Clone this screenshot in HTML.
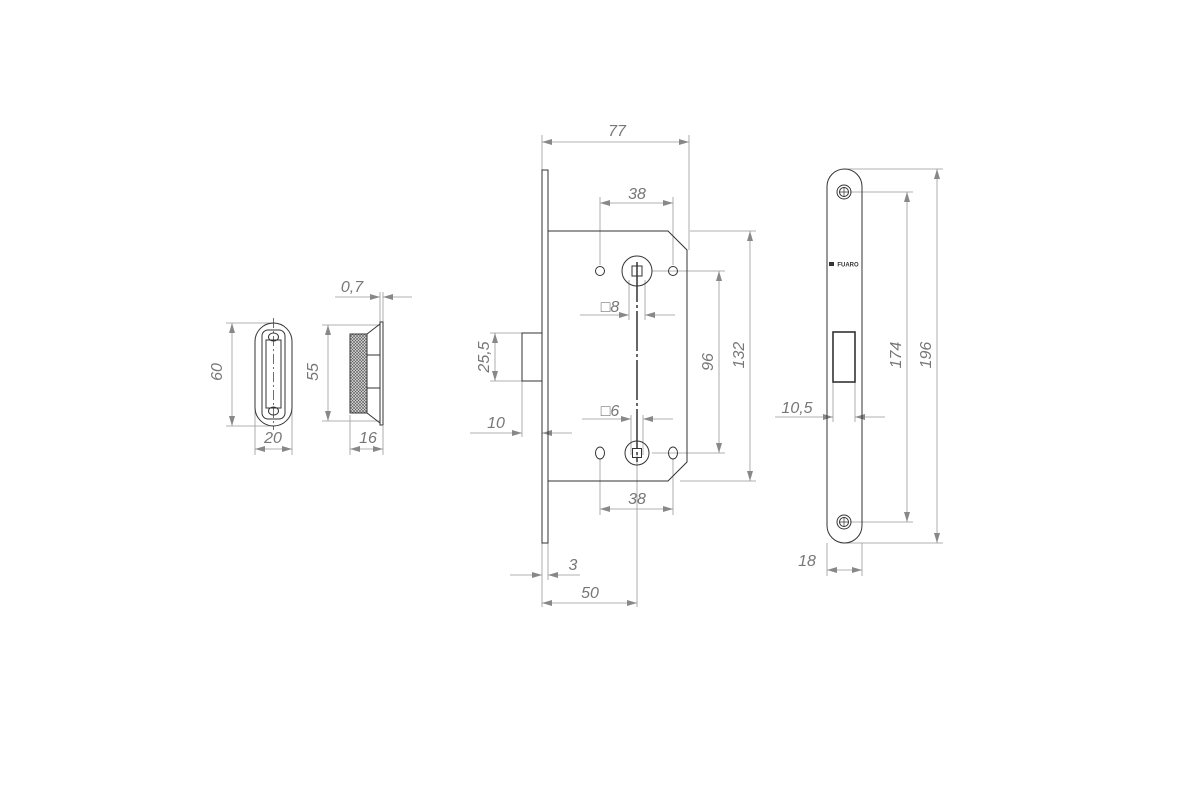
<!DOCTYPE html>
<html><head><style>html,body{margin:0;background:#fff}svg{display:block}
text{font-family:"Liberation Sans",sans-serif;font-style:italic;fill:#777;font-size:16px;text-anchor:middle}</style></head>
<body>
<svg width="1200" height="800" viewBox="0 0 1200 800" xmlns="http://www.w3.org/2000/svg">
<defs>
<marker id="a" viewBox="0 0 10 6" refX="10" refY="3" markerWidth="10" markerHeight="6" orient="auto-start-reverse" markerUnits="userSpaceOnUse"><path d="M0,0L10,3L0,6z" fill="#888"/></marker>
<pattern id="m" width="3" height="3" patternUnits="userSpaceOnUse"><rect width="3" height="3" fill="#ddd"/><path d="M0,0L3,3M3,0L0,3" stroke="#555" stroke-width="0.6"/></pattern>
</defs>
<g fill="none" stroke="#999" stroke-width="0.8">
<line x1="274" y1="323" x2="226" y2="323"/><line x1="274" y1="426" x2="226" y2="426"/>
<line x1="232" y1="323" x2="232" y2="426" marker-start="url(#a)" marker-end="url(#a)"/>
<line x1="255" y1="380" x2="255" y2="455"/><line x1="292" y1="380" x2="292" y2="455"/>
<line x1="255" y1="449" x2="292" y2="449" marker-start="url(#a)" marker-end="url(#a)"/>
<line x1="380" y1="325" x2="322" y2="325"/><line x1="380" y1="421" x2="322" y2="421"/>
<line x1="328" y1="325" x2="328" y2="421" marker-start="url(#a)" marker-end="url(#a)"/>
<line x1="350" y1="415" x2="350" y2="455"/><line x1="383" y1="426" x2="383" y2="455"/>
<line x1="350" y1="449" x2="383" y2="449" marker-start="url(#a)" marker-end="url(#a)"/>
<line x1="380" y1="292" x2="380" y2="322"/><line x1="383" y1="292" x2="383" y2="322"/>
<line x1="335" y1="297" x2="380" y2="297" marker-end="url(#a)"/><line x1="412" y1="297" x2="383" y2="297" marker-end="url(#a)"/>
<line x1="542" y1="135" x2="542" y2="170"/><line x1="689" y1="135" x2="689" y2="250"/>
<line x1="542" y1="142" x2="689" y2="142" marker-start="url(#a)" marker-end="url(#a)"/>
<line x1="600" y1="197" x2="600" y2="265"/><line x1="673" y1="197" x2="673" y2="265"/>
<line x1="600" y1="203" x2="673" y2="203" marker-start="url(#a)" marker-end="url(#a)"/>
<line x1="600" y1="459" x2="600" y2="515"/><line x1="673" y1="459" x2="673" y2="515"/>
<line x1="600" y1="509" x2="673" y2="509" marker-start="url(#a)" marker-end="url(#a)"/>
<line x1="580" y1="315" x2="629" y2="315" marker-end="url(#a)"/><line x1="675" y1="315" x2="645" y2="315" marker-end="url(#a)"/>
<line x1="629" y1="280" x2="629" y2="320"/><line x1="645" y1="280" x2="645" y2="320"/>
<line x1="582" y1="419" x2="631" y2="419" marker-end="url(#a)"/><line x1="673" y1="419" x2="643" y2="419" marker-end="url(#a)"/>
<line x1="631" y1="415" x2="631" y2="455"/><line x1="643" y1="415" x2="643" y2="455"/>
<line x1="652" y1="271" x2="725" y2="271"/><line x1="652" y1="453" x2="725" y2="453"/>
<line x1="719" y1="271" x2="719" y2="453" marker-start="url(#a)" marker-end="url(#a)"/>
<line x1="690" y1="231" x2="756" y2="231"/><line x1="680" y1="481" x2="756" y2="481"/>
<line x1="750" y1="231" x2="750" y2="481" marker-start="url(#a)" marker-end="url(#a)"/>
<line x1="522" y1="333" x2="490" y2="333"/><line x1="522" y1="381" x2="490" y2="381"/>
<line x1="495" y1="333" x2="495" y2="381" marker-start="url(#a)" marker-end="url(#a)"/>
<line x1="522" y1="381" x2="522" y2="437"/>
<line x1="470" y1="433" x2="522" y2="433" marker-end="url(#a)"/><line x1="572" y1="433" x2="542" y2="433" marker-end="url(#a)"/>
<line x1="542" y1="543" x2="542" y2="607"/><line x1="548" y1="543" x2="548" y2="580"/>
<line x1="510" y1="575" x2="542" y2="575" marker-end="url(#a)"/><line x1="580" y1="575" x2="548" y2="575" marker-end="url(#a)"/>
<line x1="637" y1="453" x2="637" y2="607"/>
<line x1="542" y1="603" x2="637" y2="603" marker-start="url(#a)" marker-end="url(#a)"/>
<line x1="843" y1="169" x2="943" y2="169"/><line x1="843" y1="543" x2="943" y2="543"/>
<line x1="850" y1="192" x2="913" y2="192"/><line x1="850" y1="522" x2="913" y2="522"/>
<line x1="907" y1="192" x2="907" y2="522" marker-start="url(#a)" marker-end="url(#a)"/>
<line x1="937" y1="169" x2="937" y2="543" marker-start="url(#a)" marker-end="url(#a)"/>
<line x1="833" y1="382" x2="833" y2="422"/><line x1="855" y1="382" x2="855" y2="422"/>
<line x1="775" y1="417" x2="833" y2="417" marker-end="url(#a)"/><line x1="885" y1="417" x2="855" y2="417" marker-end="url(#a)"/>
<line x1="827" y1="543" x2="827" y2="576"/><line x1="862" y1="543" x2="862" y2="576"/>
<line x1="827" y1="570" x2="862" y2="570" marker-start="url(#a)" marker-end="url(#a)"/>
</g>
<g fill="none" stroke="#333" stroke-width="1">
<rect x="255" y="323" width="37" height="103" rx="18.5"/>
<rect x="262" y="330" width="23" height="89" rx="6"/>
<rect x="266" y="340" width="15" height="68"/>
<ellipse cx="273.5" cy="337" rx="5" ry="4"/><ellipse cx="273.5" cy="411" rx="5" ry="4"/>
<line x1="273.5" y1="318" x2="273.5" y2="430" stroke-dasharray="10,3,2,3" stroke-width="0.7"/>
<rect x="380" y="322" width="3" height="103"/>
<path d="M350 334H367L380 324M350 413H367L380 423M367 334V413M367 355H380M367 388H380"/>
<rect x="350" y="334" width="17" height="79" fill="url(#m)" stroke="#333"/>
<rect x="542" y="170" width="6" height="373"/>
<path d="M548 231H668L687 250V462L668 481H548"/>
<rect x="522" y="333" width="20" height="48"/>
<circle cx="637" cy="271" r="15"/><rect x="632" y="266" width="10" height="10"/>
<circle cx="637" cy="453" r="12"/><rect x="632.5" y="448.5" width="9" height="9"/>
<circle cx="600" cy="271" r="4.5"/><circle cx="673" cy="271" r="4.5"/>
<ellipse cx="600" cy="453" rx="4.5" ry="6"/><ellipse cx="673" cy="453" rx="4.5" ry="6"/>
<line x1="637" y1="262" x2="637" y2="462" stroke-dasharray="40,3,3,3" stroke-width="1.5"/>
<rect x="827" y="169" width="35" height="374" rx="17.5"/>
<circle cx="844" cy="192" r="7"/><circle cx="844" cy="192" r="4.5"/>
<circle cx="844" cy="522" r="7"/><circle cx="844" cy="522" r="4.5"/>
<path d="M844 187V197M839 192H849M844 517V527M839 522H849" stroke-width="0.7"/>
<rect x="833" y="332" width="22" height="50" stroke-width="1.6"/>
</g>
<rect x="829" y="262" width="5" height="4" fill="#333"/>
<text x="848" y="266.5" style="font-size:6px;font-style:normal;font-weight:bold;fill:#333">FUARO</text>
<text x="222" y="372" transform="rotate(-90 222 372)">60</text>
<text x="273" y="443">20</text>
<text x="318" y="372" transform="rotate(-90 318 372)">55</text>
<text x="368" y="443">16</text>
<text x="352" y="292">0,7</text>
<text x="617" y="136">77</text>
<text x="637" y="199">38</text>
<text x="637" y="504">38</text>
<text x="610" y="312">□8</text>
<text x="610" y="416">□6</text>
<text x="713" y="362" transform="rotate(-90 713 362)">96</text>
<text x="744" y="355" transform="rotate(-90 744 355)">132</text>
<text x="489" y="357" transform="rotate(-90 489 357)">25,5</text>
<text x="496" y="428">10</text>
<text x="573" y="570">3</text>
<text x="590" y="598">50</text>
<text x="901" y="355" transform="rotate(-90 901 355)">174</text>
<text x="931" y="355" transform="rotate(-90 931 355)">196</text>
<text x="797" y="413">10,5</text>
<text x="807" y="566">18</text>
</svg>
</body></html>
